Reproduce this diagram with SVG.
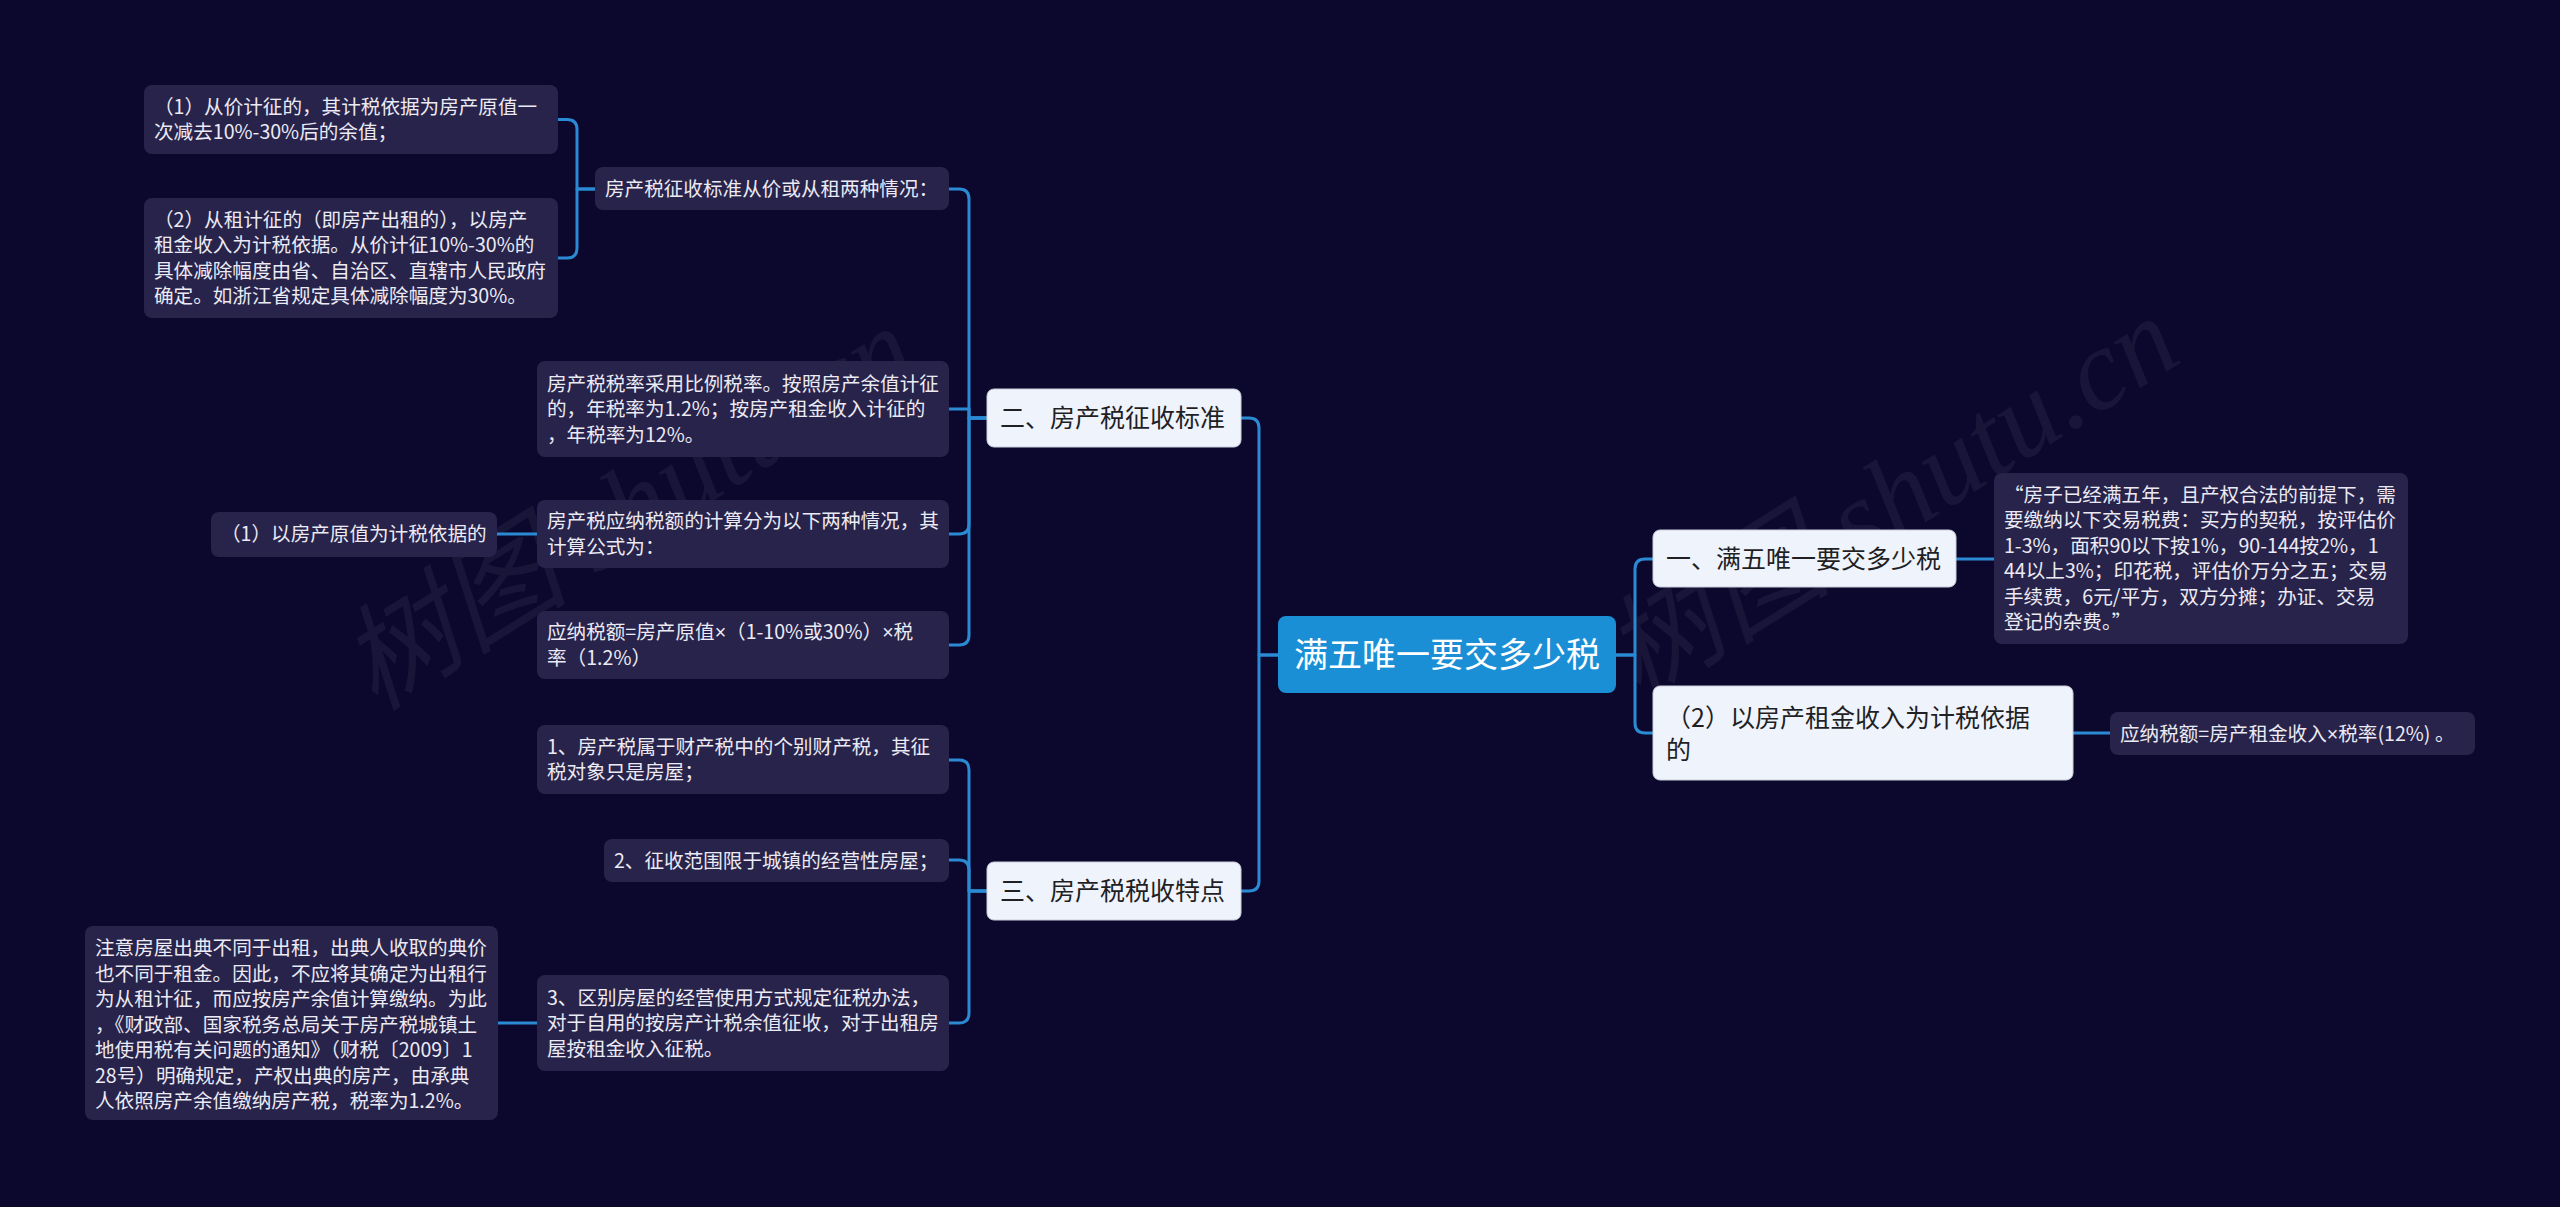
<svg xmlns="http://www.w3.org/2000/svg" width="2560" height="1207" viewBox="0 0 2560 1207">
<style>
.bg{fill:#0c082d}
.leaf rect{fill:#27234a}
.leaf text{fill:#eceaf4;font-family:"Noto Sans CJK SC","Microsoft YaHei",sans-serif;font-size:19.6px}
.branch rect{fill:#eef3fc;stroke:#c9cfdb;stroke-width:1}
.branch text{fill:#1f1f24;font-family:"Noto Sans CJK SC","Microsoft YaHei",sans-serif;font-size:25px}
.root rect{fill:#1b8fd6}
.root text{fill:#ffffff;font-family:"Noto Sans CJK SC","Microsoft YaHei",sans-serif;font-size:34px}
.conn path{fill:none;stroke:#2b8ad4;stroke-width:3;stroke-linecap:round;stroke-linejoin:round}
.wm{fill:#ffffff;fill-opacity:0.055;font-family:"Liberation Serif","Noto Sans CJK SC",serif;font-size:115px;font-style:italic}
.x{font-family:"Liberation Sans",sans-serif}
</style>
<rect class="bg" x="0" y="0" width="2560" height="1207"/>
<g id="watermarks">
<text class="wm" transform="translate(375,712) rotate(-32)">树图 shutu.cn</text>
<text class="wm" transform="translate(1638,702) rotate(-32)">树图 shutu.cn</text>
</g>
<g id="connectors" class="conn">
<path d="M1278,655 H1259 V428 Q1259,418 1249,418 H1241"/>
<path d="M1278,655 H1259 V881 Q1259,891 1249,891 H1241"/>
<path d="M1616,655 H1635 V569 Q1635,559 1645,559 H1653"/>
<path d="M1616,655 H1635 V723 Q1635,733 1645,733 H1653"/>
<path d="M1956,559 H1994"/>
<path d="M2073,733 H2110"/>
<path d="M987,418 H969 V199 Q969,189 959,189 H949"/>
<path d="M987,418 H969 V409 H949"/>
<path d="M987,418 H969 V524 Q969,534 959,534 H949"/>
<path d="M987,418 H969 V635 Q969,645 959,645 H949"/>
<path d="M595,189 H577 V129.5 Q577,119.5 567,119.5 H558"/>
<path d="M595,189 H577 V248 Q577,258 567,258 H558"/>
<path d="M537,534 H497"/>
<path d="M987,891 H969 V770 Q969,760 959,760 H949"/>
<path d="M987,891 H969 V870 Q969,860 959,860 H949"/>
<path d="M987,891 H969 V1013 Q969,1023 959,1023 H949"/>
<path d="M537,1023 H498"/>
</g>
<g id="root" class="root">
<rect x="1278" y="616" width="338" height="77" rx="8"/>
<text x="1294" y="667">满五唯一要交多少税</text>
</g>
<g id="b1" class="branch">
<rect x="1653" y="530" width="303" height="57" rx="7"/>
<text x="1666" y="568">一、满五唯一要交多少税</text>
</g>
<g id="b2" class="branch">
<rect x="1653" y="686" width="420" height="94" rx="7"/>
<text x="1666" y="727">（2）以房产租金收入为计税依据</text>
<text x="1666" y="759">的</text>
</g>
<g id="b3" class="branch">
<rect x="987" y="389" width="254" height="58" rx="7"/>
<text x="1000" y="427">二、房产税征收标准</text>
</g>
<g id="b4" class="branch">
<rect x="987" y="862" width="254" height="58" rx="7"/>
<text x="1000" y="900">三、房产税税收特点</text>
</g>
<g id="r1" class="leaf">
<rect x="1994" y="473" width="414" height="171" rx="8"/>
<text x="2004" y="502">“房子已经满五年，且产权合法的前提下，需</text>
<text x="2004" y="527">要缴纳以下交易税费：买方的契税，按评估价</text>
<text x="2004" y="553">1-3%，面积90以下按1%，90-144按2%，1</text>
<text x="2004" y="578">44以上3%；印花税，评估价万分之五；交易</text>
<text x="2004" y="604">手续费，6元/平方，双方分摊；办证、交易</text>
<text x="2004" y="629">登记的杂费。”</text>
</g>
<g id="r2" class="leaf">
<rect x="2110" y="712" width="365" height="43" rx="8"/>
<text x="2120" y="741">应纳税额=房产租金收入<tspan class="x">×</tspan>税率(12%) 。</text>
</g>
<g id="l1" class="leaf">
<rect x="595" y="167" width="354" height="43" rx="8"/>
<text x="605" y="196">房产税征收标准从价或从租两种情况：</text>
</g>
<g id="l1a" class="leaf">
<rect x="144" y="85" width="414" height="69" rx="8"/>
<text x="154" y="114">（1）从价计征的，其计税依据为房产原值一</text>
<text x="154" y="139">次减去10%-30%后的余值；</text>
</g>
<g id="l1b" class="leaf">
<rect x="144" y="198" width="414" height="120" rx="8"/>
<text x="154" y="227">（2）从租计征的（即房产出租的），以房产</text>
<text x="154" y="252">租金收入为计税依据。从价计征10%-30%的</text>
<text x="154" y="278">具体减除幅度由省、自治区、直辖市人民政府</text>
<text x="154" y="303">确定。如浙江省规定具体减除幅度为30%。</text>
</g>
<g id="l2" class="leaf">
<rect x="537" y="361" width="412" height="96" rx="8"/>
<text x="547" y="391">房产税税率采用比例税率。按照房产余值计征</text>
<text x="547" y="416">的，年税率为1.2%；按房产租金收入计征的</text>
<text x="547" y="442">，年税率为12%。</text>
</g>
<g id="l3" class="leaf">
<rect x="537" y="500" width="412" height="68" rx="8"/>
<text x="547" y="528">房产税应纳税额的计算分为以下两种情况，其</text>
<text x="547" y="554">计算公式为：</text>
</g>
<g id="l3a" class="leaf">
<rect x="211" y="512" width="286" height="45" rx="8"/>
<text x="221" y="541">（1）以房产原值为计税依据的</text>
</g>
<g id="l4" class="leaf">
<rect x="537" y="611" width="412" height="68" rx="8"/>
<text x="547" y="639">应纳税额=房产原值<tspan class="x">×</tspan>（1-10%或30%）<tspan class="x">×</tspan>税</text>
<text x="547" y="665">率（1.2%）</text>
</g>
<g id="c1" class="leaf">
<rect x="537" y="725" width="412" height="69" rx="8"/>
<text x="547" y="754">1、房产税属于财产税中的个别财产税，其征</text>
<text x="547" y="779">税对象只是房屋；</text>
</g>
<g id="c2" class="leaf">
<rect x="604" y="839" width="345" height="43" rx="8"/>
<text x="614" y="868">2、征收范围限于城镇的经营性房屋；</text>
</g>
<g id="c3" class="leaf">
<rect x="537" y="975" width="412" height="96" rx="8"/>
<text x="547" y="1005">3、区别房屋的经营使用方式规定征税办法，</text>
<text x="547" y="1030">对于自用的按房产计税余值征收，对于出租房</text>
<text x="547" y="1056">屋按租金收入征税。</text>
</g>
<g id="c3a" class="leaf">
<rect x="85" y="926" width="413" height="194" rx="8"/>
<text x="95" y="955">注意房屋出典不同于出租，出典人收取的典价</text>
<text x="95" y="981">也不同于租金。因此，不应将其确定为出租行</text>
<text x="95" y="1006">为从租计征，而应按房产余值计算缴纳。为此</text>
<text x="95" y="1032">，《财政部、国家税务总局关于房产税城镇土</text>
<text x="95" y="1057">地使用税有关问题的通知》（财税〔2009〕1</text>
<text x="95" y="1083">28号）明确规定，产权出典的房产，由承典</text>
<text x="95" y="1108">人依照房产余值缴纳房产税，税率为1.2%。</text>
</g>
</svg>
